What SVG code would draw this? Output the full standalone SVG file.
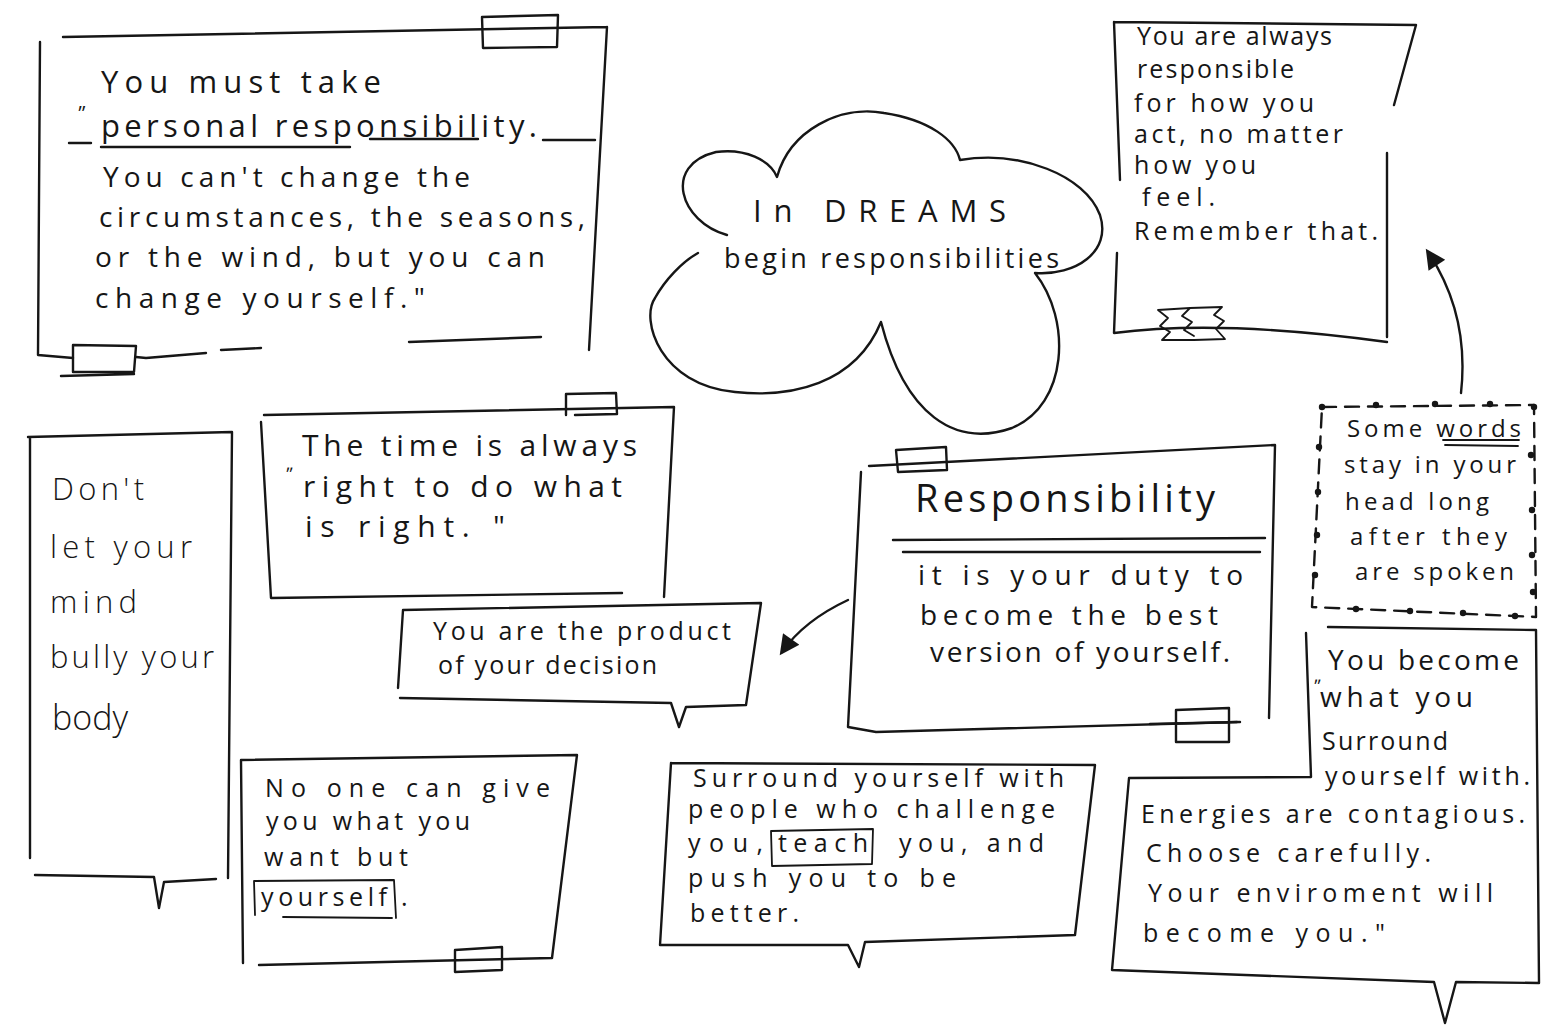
<svg xmlns="http://www.w3.org/2000/svg" width="1552" height="1025" viewBox="0 0 1552 1025">
<defs>
<style>
.ink{fill:none;stroke:#161616;stroke-width:2.4;stroke-linecap:round;stroke-linejoin:round}
.thin{fill:none;stroke:#161616;stroke-width:1.8;stroke-linecap:round;stroke-linejoin:round}
.dot{fill:#161616}
text{font-family:"Open Sans","Liberation Sans",sans-serif;fill:#161616;font-weight:400}
.t26{font-size:25px}
.t28{font-size:28px}
.t32{font-size:31px}
.lt{font-weight:300}
</style>
<marker id="ah" viewBox="0 0 10 10" refX="8" refY="5" markerWidth="24" markerHeight="20" orient="auto-start-reverse" markerUnits="userSpaceOnUse">
<path d="M0,0 L10,5 L0,10 Z" fill="#161616"/>
</marker>
</defs>
<rect width="1552" height="1025" fill="#ffffff"/>

<g id="quote-personal">
<path class="ink" d="M63,37 L607,27 M607,27 L589,350 M40,42 L38,355 L73,358 M136,357 L146,358 M146,358 L206,353 M221,350 L261,348 M409,342 L541,337"/>
<path class="ink" d="M482,17 L558,15 L557,47 L483,48 Z"/>
<path class="ink" d="M73,345 L136,346 L134,372 L73,372 Z M61,376 L134,374"/>
<text x="78" y="108" font-size="20">„</text>
<text class="t32" x="101" y="93" textLength="280" lengthAdjust="spacing">You must take</text>
<path class="ink" d="M69,143 L91,143 M543,140 L595,140 M101,147 L350,147 M370,139 L478,139"/>
<text class="t32" x="101" y="137" textLength="436" lengthAdjust="spacing">personal responsibility.</text>
<text class="t28" x="103" y="187" textLength="367" lengthAdjust="spacing">You can't change the</text>
<text class="t28" x="99" y="227" textLength="486" lengthAdjust="spacing">circumstances, the seasons,</text>
<text class="t28" x="95" y="267" textLength="450" lengthAdjust="spacing">or the wind, but you can</text>
<text class="t28" x="95" y="308" textLength="330" lengthAdjust="spacing">change yourself."</text>
</g>

<g id="cloud">
<path class="ink" d="M727,235 C680,222 662,165 716,152 C745,148 770,160 777,177 C790,130 840,105 884,113 C930,120 955,140 960,160 C1020,150 1085,175 1100,215 C1112,252 1075,276 1035,273 C1072,320 1068,405 1012,428 C955,448 905,415 881,322 C855,385 790,398 735,392 C660,385 640,320 655,298 C665,280 682,262 698,253"/>
<text x="753" y="222" font-size="31" textLength="253" lengthAdjust="spacing">In DREAMS</text>
<text x="724" y="268" font-size="27" textLength="335" lengthAdjust="spacing">begin responsibilities</text>
</g>

<g id="note-always">
<path class="ink" d="M1114,22 L1416,25 L1394,105 M1387,153 L1387,337 M1114,22 L1120,180 M1117,253 L1114,333 C1200,322 1300,330 1387,342"/>
<path class="thin" d="M1158,310 L1190,308 L1182,316 L1192,322 L1184,330 L1194,336 M1158,310 L1168,318 L1160,326 L1170,332 L1162,340 L1194,340 M1190,308 L1222,307 L1214,315 L1224,321 L1216,329 L1225,339 L1194,340"/>
<text class="t26" x="1137" y="45" textLength="195" lengthAdjust="spacing">You are always</text>
<text class="t26" x="1137" y="78" textLength="157" lengthAdjust="spacing">responsible</text>
<text class="t26" x="1134" y="112" textLength="180" lengthAdjust="spacing">for how you</text>
<text class="t26" x="1134" y="143" textLength="209" lengthAdjust="spacing">act, no matter</text>
<text class="t26" x="1134" y="174" textLength="122" lengthAdjust="spacing">how you</text>
<text class="t26" x="1142" y="206" textLength="73" lengthAdjust="spacing">feel.</text>
<text class="t26" x="1134" y="240" textLength="244" lengthAdjust="spacing">Remember that.</text>
</g>

<g id="note-mind">
<path class="ink" d="M28,437 L232,432 L228,878 M30,437 L30,858 M35,875 L154,877 L159,908 L164,882 L216,879"/>
<text class="t32 lt" x="52" y="500" textLength="92" lengthAdjust="spacing">Don't</text>
<text class="t32 lt" x="50" y="558" textLength="142" lengthAdjust="spacing">let your</text>
<text class="t32 lt" x="50" y="613" textLength="87" lengthAdjust="spacing">mind</text>
<text class="t32 lt" x="50" y="668" textLength="164" lengthAdjust="spacing">bully your</text>
<text class="lt" x="52" y="730" font-size="34">body</text>
</g>

<g id="note-time">
<path class="ink" d="M264,415 L674,407 L664,597 M261,422 L271,598 L622,593"/>
<path class="ink" d="M566,415 L566,394 L616,393 L617,414 L575,415"/>
<text x="286" y="470" font-size="18">„</text>
<text x="302" y="456" font-size="30" textLength="335" lengthAdjust="spacing">The time is always</text>
<text x="303" y="497" font-size="30" textLength="319" lengthAdjust="spacing">right to do what</text>
<text x="305" y="537" font-size="30" textLength="200" lengthAdjust="spacing">is right. "</text>
</g>

<g id="note-product">
<path class="ink" d="M403,610 L761,603 L746,705 M403,610 L398,688 M400,698 L671,703 L679,727 L686,707 L746,705"/>
<text class="t26" x="433" y="640" textLength="298" lengthAdjust="spacing">You are the product</text>
<text class="t26" x="438" y="674" textLength="219" lengthAdjust="spacing">of your decision</text>
</g>

<g id="responsibility">
<path class="ink" d="M869,466 L1275,445 L1269,718 M861,472 L848,727 L876,732 L1237,722"/>
<path class="ink" d="M896,450 L946,447 L947,470 L898,472 Z"/>
<path class="ink" d="M1176,710 L1229,708 L1229,742 L1176,742 Z M1150,724 L1240,722"/>
<text x="915" y="512" font-size="38" textLength="300" lengthAdjust="spacing">Responsibility</text>
<path class="ink" d="M893,540 L1265,538 M903,552 L1260,552"/>
<text class="t28" x="918" y="585" textLength="325" lengthAdjust="spacing">it is your duty to</text>
<text class="t28" x="920" y="625" textLength="298" lengthAdjust="spacing">become the best</text>
<text class="t28" x="930" y="662" textLength="300" lengthAdjust="spacing">version of yourself.</text>
</g>

<g id="note-words">
<path class="ink" d="M1322,407 L1534,405 L1536,617 L1312,607 Z" stroke-dasharray="14,9" stroke-width="2.6"/>
<g class="dot">
<circle cx="1322" cy="407" r="3.2"/><circle cx="1376" cy="405" r="3.2"/><circle cx="1435" cy="404" r="3.2"/><circle cx="1490" cy="404" r="3.2"/><circle cx="1534" cy="407" r="3.2"/>
<circle cx="1319" cy="447" r="3.2"/><circle cx="1318" cy="492" r="3.2"/><circle cx="1317" cy="535" r="3.2"/><circle cx="1315" cy="575" r="3.2"/>
<circle cx="1531" cy="455" r="3.2"/><circle cx="1532" cy="510" r="3.2"/><circle cx="1532" cy="555" r="3.2"/><circle cx="1533" cy="592" r="3.2"/>
<circle cx="1356" cy="609" r="3.2"/><circle cx="1410" cy="611" r="3.2"/><circle cx="1463" cy="613" r="3.2"/><circle cx="1515" cy="616" r="3.2"/>
</g>
<text x="1347" y="437" font-size="24" textLength="174" lengthAdjust="spacing">Some words</text>
<path class="thin" d="M1443,440 L1519,440 M1445,445 L1518,446"/>
<text x="1344" y="473" font-size="24" textLength="172" lengthAdjust="spacing">stay in your</text>
<text x="1345" y="510" font-size="24" textLength="144" lengthAdjust="spacing">head long</text>
<text x="1350" y="545" font-size="24" textLength="157" lengthAdjust="spacing">after they</text>
<text x="1355" y="580" font-size="24" textLength="159" lengthAdjust="spacing">are spoken</text>
</g>

<g id="note-become">
<path class="ink" d="M1328,627 L1536,630 L1539,983 M1306,633 L1311,777 L1129,778 L1112,970 L1434,982 L1445,1023 L1456,982 L1539,983"/>
<text x="1314" y="682" font-size="18">„</text>
<text class="t28" x="1328" y="670" textLength="191" lengthAdjust="spacing">You become</text>
<text class="t28" x="1320" y="707" textLength="153" lengthAdjust="spacing">what you</text>
<text class="t26" x="1322" y="750" textLength="126" lengthAdjust="spacing">Surround</text>
<text class="t26" x="1325" y="785" textLength="205" lengthAdjust="spacing">yourself with.</text>
<text class="t26" x="1141" y="823" textLength="384" lengthAdjust="spacing">Energies are contagious.</text>
<text class="t26" x="1146" y="862" textLength="285" lengthAdjust="spacing">Choose carefully.</text>
<text class="t26" x="1148" y="902" textLength="345" lengthAdjust="spacing">Your enviroment will</text>
<text class="t26" x="1143" y="942" textLength="242" lengthAdjust="spacing">become you."</text>
</g>

<g id="note-surround">
<path class="ink" d="M671,763 L1095,765 L1075,935 L865,942 L859,967 L848,945 L660,945 L671,763"/>
<text class="t26" x="693" y="787" textLength="371" lengthAdjust="spacing">Surround yourself with</text>
<text class="t26" x="688" y="818" textLength="367" lengthAdjust="spacing">people who challenge</text>
<text class="t26" x="688" y="852" textLength="75" lengthAdjust="spacing">you,</text>
<text class="t26" x="778" y="852" textLength="90" lengthAdjust="spacing">teach</text>
<path class="thin" d="M771,831 L873,829 L872,864 L772,866 Z"/>
<text class="t26" x="899" y="852" textLength="145" lengthAdjust="spacing">you, and</text>
<text class="t26" x="688" y="887" textLength="268" lengthAdjust="spacing">push you to be</text>
<text class="t26" x="690" y="922" textLength="109" lengthAdjust="spacing">better.</text>
</g>

<g id="note-give">
<path class="ink" d="M241,760 L577,755 L552,958 L259,965 M241,760 L243,963"/>
<path class="ink" d="M455,950 L502,947 L502,970 L455,972 Z"/>
<text class="t26" x="265" y="797" textLength="285" lengthAdjust="spacing">No one can give</text>
<text class="t26" x="266" y="830" textLength="204" lengthAdjust="spacing">you what you</text>
<text class="t26" x="264" y="866" textLength="144" lengthAdjust="spacing">want but</text>
<text class="t26" x="261" y="906" textLength="126" lengthAdjust="spacing">yourself</text>
<text class="t26" x="401" y="906">.</text>
<path class="thin" d="M254,881 L394,880 L396,918 M254,881 L255,915 M283,917 L392,918"/>
</g>

<g id="connectors">
<path class="ink" d="M1461,393 C1468,330 1450,285 1428,252" marker-end="url(#ah)"/>
<path class="ink" d="M848,600 C818,614 796,632 782,652" marker-end="url(#ah)"/>
</g>
</svg>
